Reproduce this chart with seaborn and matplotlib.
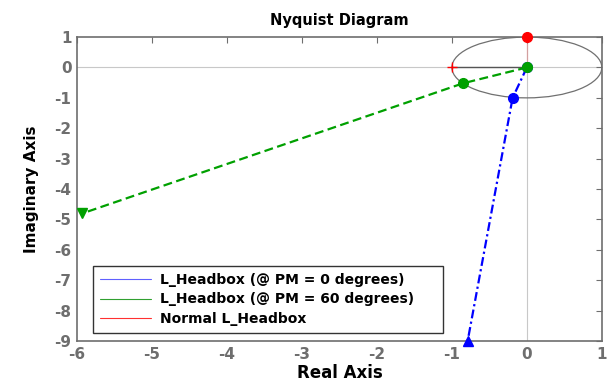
import matplotlib
matplotlib.use("Agg")
import matplotlib.pyplot as plt
from matplotlib.patches import Ellipse
from matplotlib.lines import Line2D
import seaborn as sns
import pandas as pd

# Nyquist loci (real, imaginary) for each headbox model
pm0_re = [0.0, -0.19, -0.79]
pm0_im = [0.0, -1.0, -9.0]
pm60_re = [0.0, -0.85, -5.93]
pm60_im = [0.0, -0.52, -4.8]
normal_re = [0.0, 0.0]
normal_im = [0.0, 1.0]
crit_re = [-1.0]
crit_im = [0.0]

legend_labels = ["L_Headbox (@ PM = 0 degrees)",
                 "L_Headbox (@ PM = 60 degrees)",
                 "Normal L_Headbox"]
xticks = [-6, -5, -4, -3, -2, -1, 0, 1]
yticks = [1, 0, -1, -2, -3, -4, -5, -6, -7, -8, -9]

sns.set_style("white")
plt.rcParams["font.family"] = ["DejaVu Sans"]
plt.rcParams["font.weight"] = "bold"
plt.rcParams["axes.unicode_minus"] = False
plt.rcParams["text.color"] = "black"
plt.rcParams["axes.labelcolor"] = "black"

fig = plt.figure(figsize=(6.11, 3.82), dpi=100)
ax = fig.add_axes([0.126, 0.107, 0.859, 0.796])

grey = "#6e6e6e"
# reference axes through origin
ax.axhline(0, color="#c8c8c8", lw=0.8, zorder=0)
ax.axvline(0, color="#c8c8c8", lw=0.8, zorder=0)
ax.plot([-1, 0], [0, 0], color="#555555", lw=1.0, zorder=1)
ax.add_patch(Ellipse((0, 0), 2, 2, fill=False, ec="#707070", lw=0.9, zorder=1))

df0 = pd.DataFrame({"re": pm0_re, "im": pm0_im})
df60 = pd.DataFrame({"re": pm60_re, "im": pm60_im})
dfn = pd.DataFrame({"re": normal_re, "im": normal_im})

sns.lineplot(data=df0, x="re", y="im", sort=False, ax=ax, color="#0000ff",
             lw=1.6, linestyle=(0, (4, 1.5, 1, 1.5)), zorder=3)
sns.lineplot(data=df60, x="re", y="im", sort=False, ax=ax, color="#00a000",
             lw=1.6, linestyle=(0, (4, 2)), zorder=3)
sns.lineplot(data=dfn, x="re", y="im", sort=False, ax=ax, color="#ff0000",
             lw=2.2, zorder=3)

# markers at the sampled frequencies
mk = dict(ms=7, clip_on=False)
ax.plot(pm0_re[:2], pm0_im[:2], "o", color="#0000ff", zorder=4, **mk)
ax.plot(pm0_re[2:], pm0_im[2:], "^", color="#0000ff", zorder=4, **mk)
ax.plot(pm60_re[:2], pm60_im[:2], "o", color="#00a000", zorder=5, **mk)
ax.plot(pm60_re[2:], pm60_im[2:], "v", color="#00a000", zorder=4, **mk)
ax.plot(normal_re[1:], normal_im[1:], "o", color="#ff0000", zorder=4, **mk)
ax.plot(crit_re, crit_im, "+", color="#ff0000", ms=7, mew=1.0, zorder=4)

ax.set_xlim(-6, 1)
ax.set_ylim(-9, 1)
ax.set_xticks(xticks)
ax.set_yticks(yticks)
ax.tick_params(direction="in", length=4, color=grey, labelcolor=grey,
               labelsize=11, top=True, right=True, pad=4)
for lab in ax.get_xticklabels() + ax.get_yticklabels():
    lab.set_fontweight("bold")
for sp in ax.spines.values():
    sp.set_color(grey)
    sp.set_linewidth(1.2)

ax.set_title("Nyquist Diagram", fontsize=10.5, fontweight="bold", pad=9,
             color="black")
ax.set_xlabel("Real Axis", fontsize=12, fontweight="bold", labelpad=2)
ax.set_ylabel("Imaginary Axis", fontsize=11, fontweight="bold", labelpad=11)

handles = [Line2D([], [], color="#6060ff", lw=0.8),
           Line2D([], [], color="#30a030", lw=0.8),
           Line2D([], [], color="#ff3030", lw=0.8)]
leg = ax.legend(handles, legend_labels, loc="lower left",
                bbox_to_anchor=(0.0305, 0.026, 0.667, 0.22), mode="expand",
                borderaxespad=0, frameon=True, fancybox=False,
                prop={"weight": "bold", "size": 10}, handlelength=3.7,
                borderpad=0.5, labelspacing=0.42, handletextpad=0.65)
leg.get_frame().set_edgecolor("black")
leg.get_frame().set_linewidth(1.0)

fig.savefig("out.png", dpi=100)
